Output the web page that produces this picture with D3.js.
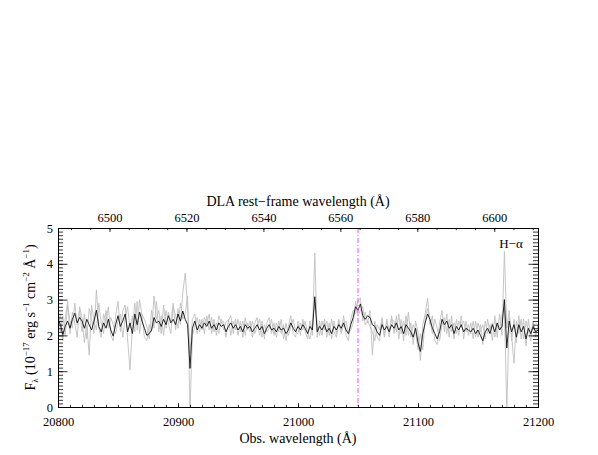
<!DOCTYPE html>
<html><head><meta charset="utf-8">
<script src="https://cdn.jsdelivr.net/npm/d3@7"></script>
<style>body{margin:0;background:#fff}svg{display:block}</style>
</head><body>
<svg id="c" width="598" height="455"></svg>
<script>
// observed wavelength grid (Å)
const wlStart = 20800, wlStep = 2, nPts = 201;
// black (mean) spectrum, flux in 1e-17 erg/s/cm2/Å
const meanFlux = [
2.45,2.30,2.02,2.25,2.40,2.20,2.45,2.62,2.35,2.50,
2.40,2.20,2.45,2.30,2.15,2.40,2.70,2.25,2.10,2.35,
2.20,2.45,2.15,1.98,2.30,2.55,2.25,2.40,2.60,2.10,
2.35,2.05,2.60,2.30,2.65,2.40,2.20,2.00,2.05,2.15,
2.50,2.35,2.40,2.25,2.45,2.30,2.55,2.35,2.45,2.30,
2.60,2.40,2.68,2.45,2.30,1.08,2.20,2.40,2.15,2.30,
2.20,2.35,2.25,2.40,2.20,2.30,2.15,2.35,2.25,2.30,
2.10,2.25,2.35,2.20,2.30,2.15,2.25,2.10,2.30,2.20,
2.25,2.10,2.20,2.30,2.15,2.25,2.05,2.20,2.30,2.15,
2.20,2.10,2.25,2.15,2.20,2.05,2.15,2.35,2.20,2.10,
2.25,2.15,2.30,2.20,2.05,2.25,2.15,3.08,2.10,2.25,
2.15,2.30,2.10,2.20,2.05,2.25,2.15,2.30,2.20,2.35,
2.15,2.05,2.30,2.50,2.80,2.70,2.88,2.55,2.45,2.55,
2.50,2.30,2.25,2.10,2.00,2.30,2.15,2.25,2.10,2.30,
2.20,2.35,2.15,2.25,2.05,2.30,2.20,2.10,1.95,2.20,
1.80,1.55,2.05,2.35,2.60,2.45,2.20,2.05,1.90,2.10,
2.45,2.30,2.40,2.20,2.30,2.05,2.25,2.15,2.30,2.10,
2.20,2.15,2.10,2.20,2.05,2.15,2.00,1.85,2.10,2.20,
2.05,2.30,2.10,2.35,2.15,2.25,3.00,1.65,2.40,2.10,
2.30,1.95,2.30,2.10,2.25,1.90,2.20,2.05,2.25,2.10,
2.15];
// individual spectra (grey)
const spec1 = [
2.80,2.10,2.55,2.00,2.85,2.40,2.20,2.90,2.30,2.70,
2.10,2.60,1.90,2.75,2.45,2.05,3.27,2.20,1.95,2.60,
2.35,2.80,2.00,1.85,2.55,2.95,2.10,2.70,2.85,1.90,
1.03,2.30,2.90,2.15,3.00,2.55,1.95,1.85,2.30,2.10,
3.10,2.45,2.70,2.05,2.85,2.20,2.65,2.40,2.90,2.15,
2.75,2.30,3.20,3.74,2.80,1.50,2.45,2.60,2.05,2.45,
2.15,2.50,2.30,2.60,2.05,2.45,2.00,2.55,2.35,2.40,
1.95,2.40,2.55,2.05,2.45,2.00,2.40,1.95,2.50,2.15,
2.40,1.95,2.35,2.50,2.00,2.40,1.90,2.35,2.50,2.05,
2.35,1.95,2.40,2.05,2.30,1.85,2.25,2.55,2.05,1.95,
2.40,2.00,2.45,2.10,1.90,2.40,2.00,4.30,1.95,2.40,
2.00,2.45,1.95,2.35,1.90,2.40,2.05,2.45,2.10,2.55,
2.00,1.85,2.45,2.70,2.60,2.95,3.05,2.40,2.65,2.35,
2.70,1.45,2.40,1.95,1.85,2.50,2.00,2.45,1.95,2.55,
2.05,2.55,1.90,2.45,1.85,2.55,2.00,2.35,1.75,2.40,
2.10,1.30,2.30,2.60,3.04,2.30,2.55,1.85,1.75,2.35,
2.70,2.10,2.60,1.95,2.55,1.90,2.45,2.00,2.55,1.90,
2.40,2.00,2.35,1.90,2.40,1.95,2.30,1.75,2.40,2.05,
2.30,1.85,2.55,1.95,2.60,2.00,4.35,2.20,2.70,1.85,
2.45,1.80,2.55,1.90,2.45,1.70,2.45,2.00,2.40,1.95,
2.30];
const spec2 = [
2.20,2.60,1.85,2.45,2.95,2.05,2.65,2.35,1.95,2.80,
2.50,1.80,2.30,1.45,2.85,2.40,2.15,2.90,2.35,2.05,
2.70,2.20,2.50,2.30,2.05,2.40,2.60,1.95,2.50,2.80,
2.20,2.55,2.10,2.95,2.05,2.60,2.45,2.25,1.90,2.70,
2.20,2.95,2.10,2.55,2.00,2.70,2.35,2.05,2.80,2.55,
2.20,2.90,2.45,2.60,3.10,-0.10,2.00,2.25,2.50,2.10,
2.45,2.05,2.55,2.15,2.50,2.10,2.35,2.05,2.45,2.15,
2.35,2.45,2.00,2.40,2.15,2.45,2.10,2.40,2.00,2.35,
2.10,2.40,2.05,2.25,2.45,1.95,2.30,2.10,2.20,2.45,
2.00,2.35,2.10,2.45,1.90,2.35,2.00,2.25,2.45,2.10,
2.05,2.35,2.15,2.40,2.05,1.90,2.35,3.00,2.30,2.00,
2.40,2.15,2.40,2.00,2.45,2.10,1.95,2.40,2.05,2.30,
2.40,2.05,2.15,2.35,2.95,2.55,2.70,2.80,2.30,2.40,
2.25,2.10,1.85,2.30,2.15,2.45,1.95,2.40,2.15,2.45,
2.40,2.10,2.60,2.05,2.40,2.00,2.65,1.95,2.30,2.10,
1.60,2.05,1.60,2.50,2.75,2.40,2.05,2.45,2.20,1.85,
2.30,2.50,2.05,2.45,2.10,2.35,2.05,2.40,2.25,2.40,
2.10,2.30,2.05,2.40,1.95,2.35,2.10,2.30,1.90,2.45,
2.10,2.35,1.95,2.30,2.15,2.60,2.75,-0.10,2.50,2.00,
1.22,2.40,2.05,2.45,1.90,2.40,2.15,1.85,2.40,2.05,
2.15];
const onePlusZ = 3.2066;           // DLA redshift factor
const restTicks = [6500, 6520, 6540, 6560, 6580, 6600];
const obsTicks = [20800, 20900, 21000, 21100, 21200];
const yTicks = [0, 1, 2, 3, 4, 5];
const haObs = 21050;               // H-alpha at DLA redshift

const FONT = '"Liberation Serif","Times New Roman",Times,"Nimbus Roman","DejaVu Serif","Noto Serif",serif';
const wl = d3.range(nPts).map(i => wlStart + i * wlStep);
const svg = d3.select("#c").attr("font-family", FONT);
const L = 58, R = 538, T = 228, B = 407;
const x = d3.scaleLinear().domain([20800, 21200]).range([L, R]);
const y = d3.scaleLinear().domain([0, 5]).range([B, T]);
const xr = d3.scaleLinear().domain([20800 / onePlusZ, 21200 / onePlusZ]).range([L, R]);

svg.append("clipPath").attr("id", "clip").append("rect")
  .attr("x", L).attr("y", T).attr("width", R - L).attr("height", B - T);
const g = svg.append("g").attr("clip-path", "url(#clip)");
const line = arr => d3.line().x((d, i) => x(wl[i])).y(d => y(d))(arr);
[spec1, spec2].forEach(s => g.append("path").attr("d", line(s))
  .attr("fill", "none").attr("stroke", "#c0c0c0").attr("stroke-width", 0.9));
g.append("path").attr("d", line(meanFlux)).attr("fill", "none")
  .attr("stroke", "#111").attr("stroke-width", 0.9);
svg.append("line").attr("x1", x(haObs)).attr("x2", x(haObs)).attr("y1", T).attr("y2", B)
  .attr("stroke", "#ff44ff").attr("stroke-width", 1).attr("stroke-dasharray", "5,2,1,2");

// axes (IDL style, inward ticks)
const fs = 12.5;
const bx = d3.axisBottom(x).tickValues(obsTicks).tickSize(-4).tickFormat(d3.format("d")).tickPadding(10);
const bxm = d3.axisBottom(x).tickValues(d3.range(20800, 21201, 10)).tickSize(-2.2).tickFormat("");
const tx = d3.axisTop(xr).tickValues(restTicks).tickSize(-4).tickFormat(d3.format("d")).tickPadding(6);
const txm = d3.axisTop(xr).tickValues(d3.range(6490, 6611, 5)).tickSize(-2.2).tickFormat("");
const ly = d3.axisLeft(y).tickValues(yTicks).tickSize(-9.5).tickFormat(d3.format("d")).tickPadding(5);
const lym = d3.axisLeft(y).tickValues(d3.range(0, 50).map(v => v / 10)).tickSize(-5).tickFormat("");
const ry = d3.axisRight(y).tickValues(yTicks).tickSize(-9.5).tickFormat("");
const rym = d3.axisRight(y).tickValues(d3.range(0, 50).map(v => v / 10)).tickSize(-5).tickFormat("");
function put(ax, tr) {
  const a = svg.append("g").attr("transform", tr).call(ax)
    .attr("font-family", FONT).attr("font-size", fs);
  a.select(".domain").attr("stroke", "#000").attr("stroke-width", 1);
  a.selectAll(".tick line").attr("stroke", "#000").attr("stroke-width", 0.8);
  return a;
}
put(bxm, `translate(0,${B})`); put(bx, `translate(0,${B})`);
put(txm, `translate(0,${T})`); put(tx, `translate(0,${T})`);
put(lym, `translate(${L},0)`); put(ly, `translate(${L},0)`);
put(rym, `translate(${R},0)`); put(ry, `translate(${R},0)`);

svg.append("text").attr("x", (L + R) / 2).attr("y", 443).attr("text-anchor", "middle")
  .attr("font-size", 14).text("Obs. wavelength (Å)");
svg.append("text").attr("x", (L + R) / 2).attr("y", 206).attr("text-anchor", "middle")
  .attr("font-size", 14).text("DLA rest−frame wavelength (Å)");
svg.append("text").attr("x", 511).attr("y", 248).attr("text-anchor", "middle")
  .attr("font-size", 13).text("H−α");

const yl = svg.append("text").attr("transform", `translate(35,${(T + B) / 2}) rotate(-90)`)
  .attr("text-anchor", "middle").attr("font-size", 14);
yl.append("tspan").text("F");
yl.append("tspan").attr("font-size", 9).attr("dy", 3).text("λ");
yl.append("tspan").attr("dy", -3).text(" (10");
yl.append("tspan").attr("font-size", 9).attr("dy", -6).text("−17");
yl.append("tspan").attr("dy", 6).text(" erg s");
yl.append("tspan").attr("font-size", 9).attr("dy", -6).text("−1");
yl.append("tspan").attr("dy", 6).text(" cm");
yl.append("tspan").attr("font-size", 9).attr("dy", -6).text("−2");
yl.append("tspan").attr("dy", 6).text(" Å");
yl.append("tspan").attr("font-size", 9).attr("dy", -6).text("−1");
yl.append("tspan").attr("dy", 6).text(")");
</script>
</body></html>
